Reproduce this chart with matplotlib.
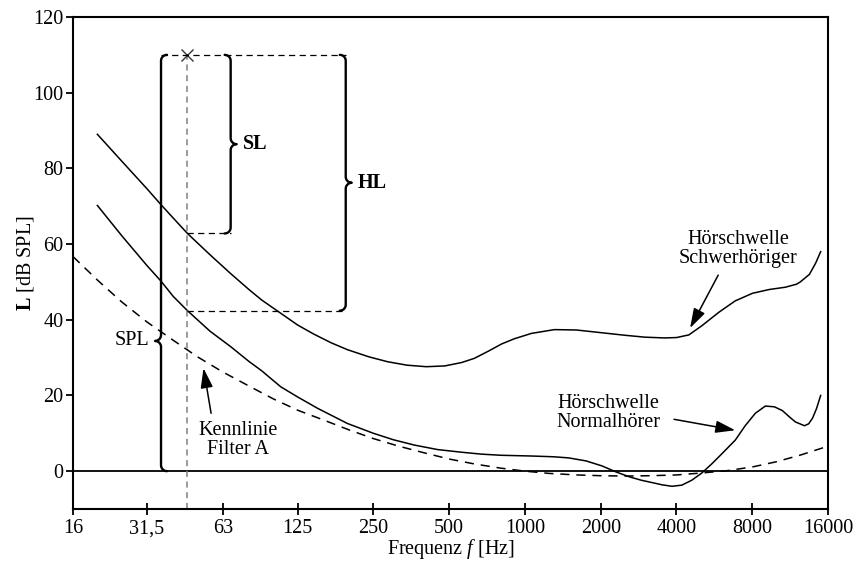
import numpy as np
import matplotlib
matplotlib.use('Agg')
import matplotlib.pyplot as plt
from matplotlib.ticker import FixedLocator, FixedFormatter, NullLocator

plt.rcParams['font.family'] = 'Liberation Serif'
plt.rcParams['mathtext.fontset'] = 'custom'
plt.rcParams['mathtext.rm'] = 'Liberation Serif'
plt.rcParams['mathtext.it'] = 'Liberation Serif:italic'
plt.rcParams['mathtext.bf'] = 'Liberation Serif:bold'

FS = 14.5

# x axis (octave bands)
TICK_F      = [16, 31.5, 63, 125, 250, 500, 1000, 2000, 4000, 8000, 16000]
TICK_LABELS = ['16', '31,5', '63', '125', '250', '500', '1000', '2000', '4000', '8000', '16000']
Y_TICKS     = [0, 20, 40, 60, 80, 100, 120]

# Hoerschwelle Schwerhoeriger
HS_F = [20, 25, 31.5, 35.8, 40, 45.6, 56, 67.7, 80, 90, 104, 125, 145, 170, 197,
        240, 285, 340, 405, 480, 560, 629, 720, 807, 909, 1061, 1310, 1600, 2000,
        2500, 3000, 3590, 4000, 4480, 5040, 5900, 6850, 8020, 9350, 10830, 12000,
        12420, 13500, 14300, 14960]
HS_L = [89, 81.9, 74.6, 70.4, 66.9, 62.8, 57.2, 52.2, 48, 45.2, 42.3, 38.6, 36.2,
        33.9, 32.1, 30.2, 28.9, 28, 27.6, 27.8, 28.7, 29.8, 31.8, 33.6, 35.0, 36.4,
        37.4, 37.3, 36.6, 35.9, 35.4, 35.2, 35.3, 36, 38.4, 42, 45, 47, 48, 48.6,
        49.4, 50, 52, 55, 58]

# Hoerschwelle Normalhoerer
HN_F = [20, 25, 31.5, 35.8, 40, 45.6, 56, 67.7, 80, 90, 107, 125, 150, 197, 250,
        300, 363, 450, 560, 670, 800, 1061, 1300, 1493, 1750, 2020, 2300, 2600,
        2900, 3190, 3500, 3840, 4200, 4600, 5040, 5500, 6000, 6850, 7500, 8230,
        9020, 9800, 10540, 11300, 11880, 12900, 13400, 13890, 14400, 14960]
HN_L = [70.2, 62.2, 54.3, 50.2, 46.2, 42.4, 37, 32.9, 29, 26.5, 22.3, 19.6, 16.6,
        12.6, 10, 8.3, 6.9, 5.7, 5.0, 4.5, 4.2, 4.0, 3.8, 3.5, 2.7, 1.4, -0.2, -1.5,
        -2.4, -3.0, -3.6, -4.0, -3.7, -2.4, -0.5, 1.8, 4.3, 8.2, 12, 15.3, 17.2,
        17, 16, 14.2, 13, 12, 12.5, 14, 16.5, 20]

# Kennlinie Filter A (inverted)
FA_F = [16, 20, 25, 31.5, 40, 50, 63, 80, 100, 125, 160, 200, 250, 315, 400, 500,
        630, 800, 1000, 1250, 1600, 2000, 2500, 3150, 4000, 5000, 6300, 8000,
        10000, 12500, 16000]
FA_L = [56.7, 50.5, 44.7, 39.4, 34.6, 30.2, 26.2, 22.5, 19.1, 16.1, 13.4, 10.9,
        8.6, 6.6, 4.8, 3.2, 1.9, 0.8, 0.0, -0.6, -1.0, -1.2, -1.3, -1.2, -1.0,
        -0.5, 0.1, 1.1, 2.5, 4.3, 6.6]

# example point (x) and the levels used for SL / HL / SPL
MARK_F, MARK_L = 45.6, 110
SL_LOW = 62.8   # Schwerhoeriger threshold at MARK_F
HL_LOW = 42.4   # Normalhoerer threshold at MARK_F
SPL_F, SL_F, HL_F = 35.8, 67.7, 194
SPL_TIP = 34.4

fig = plt.figure(figsize=(8.61, 5.64), dpi=100)
ax = fig.add_axes([73/861, 55/564, 755/861, 492/564])
ax.set_xscale('log')
ax.set_xlim(16, 16000)
ax.set_ylim(-10, 120)

for sp in ax.spines.values():
    sp.set_linewidth(1.5)
    sp.set_color('black')

ax.xaxis.set_major_locator(FixedLocator(TICK_F))
ax.xaxis.set_major_formatter(FixedFormatter(TICK_LABELS))
ax.xaxis.set_minor_locator(NullLocator())
ax.set_yticks(Y_TICKS)
ax.tick_params(axis='x', direction='inout', length=8.5, width=1.3,
               labelsize=FS, pad=3)
ax.tick_params(axis='y', direction='out', length=5, width=1.3,
               labelsize=FS, pad=2)

ax.set_xlabel('Frequenz $\\mathit{f}$ [Hz]', fontsize=FS, labelpad=-1)
ax.set_ylabel('$\\mathbf{L}$ [dB SPL]', fontsize=FS, labelpad=-2)

# curves
ax.axhline(0, color='black', lw=1.3)
ax.plot(HS_F, HS_L, color='black', lw=1.1)
ax.plot(HN_F, HN_L, color='black', lw=1.1)
ax.plot(FA_F, FA_L, color='black', lw=1.1, ls=(0, (6, 4.5)))

# helper lines
ax.plot([MARK_F, MARK_F], [-10, MARK_L], color='#808080', lw=1.1, ls=(0, (4, 3)))
ax.plot([MARK_F], [MARK_L], marker='x', color='#333333', ms=9, mew=1.0)
ax.plot([SPL_F, HL_F], [MARK_L, MARK_L], color='black', lw=0.9, ls=(0, (5, 3.5)))
ax.plot([MARK_F, SL_F], [SL_LOW, SL_LOW], color='black', lw=0.9, ls=(0, (5, 3.5)))
ax.plot([MARK_F, HL_F], [HL_LOW, HL_LOW], color='black', lw=0.9, ls=(0, (5, 3.5)))


def brace(f, y_lo, y_hi, y_tip, side=1, w=6.0):
    """curly brace at frequency f, side=1 tip to the right, -1 to the left"""
    X, Ylo = ax.transData.transform((f, y_lo))
    _, Yhi = ax.transData.transform((f, y_hi))
    _, Ym = ax.transData.transform((f, y_tip))
    t = np.linspace(0, np.pi / 2, 12)
    s = side
    pts = []
    # top end curl
    cx, cy = X - s * w, Yhi - w
    pts += list(zip(cx + s * w * np.sin(t), cy + w * np.cos(t)))
    # tip
    cx, cy = X + s * w, Ym + w
    pts += list(zip(cx - s * w * np.cos(t), cy - w * np.sin(t)))
    cx, cy = X + s * w, Ym - w
    pts += list(zip(cx - s * w * np.sin(t), cy + w * np.cos(t)))
    # bottom end curl
    cx, cy = X - s * w, Ylo + w
    pts += list(zip(cx + s * w * np.cos(t), cy - w * np.sin(t)))
    pts = np.array(pts)
    data = ax.transData.inverted().transform(pts)
    ax.plot(data[:, 0], data[:, 1], color='black', lw=1.7,
            solid_capstyle='round', solid_joinstyle='round')
    return ax.transData.inverted().transform((X + s * (w + 6), Ym))


p = brace(SL_F, SL_LOW, MARK_L, (SL_LOW + MARK_L) / 2, side=1)
ax.text(p[0], p[1], 'SL', fontsize=FS, fontweight='bold', ha='left', va='center')
p = brace(HL_F, HL_LOW, MARK_L, (HL_LOW + MARK_L) / 2, side=1)
ax.text(p[0], p[1], 'HL', fontsize=FS, fontweight='bold', ha='left', va='center')
p = brace(SPL_F, 0, MARK_L, SPL_TIP, side=-1)
ax.text(p[0], p[1], 'SPL', fontsize=FS, ha='right', va='center')

# annotations
arrow = dict(arrowstyle='-|>,head_length=0.8,head_width=0.25', color='black',
             lw=1.1, mutation_scale=15, shrinkA=0, shrinkB=0)
ax.annotate('', xy=(52.8, 27.2), xytext=(56.6, 15.3), arrowprops=arrow)
ax.text(72.6, 8.2, 'Kennlinie\nFilter A', fontsize=FS, ha='center', va='center',
        linespacing=1.0)
ax.annotate('', xy=(4530, 37.8), xytext=(5860, 51.8), arrowprops=arrow)
ax.text(7040, 58.7, 'Hörschwelle\nSchwerhöriger', fontsize=FS, ha='center',
        va='center', linespacing=1.0)
ax.annotate('', xy=(6850, 10.8), xytext=(3910, 13.7), arrowprops=arrow)
ax.text(2150, 15.3, 'Hörschwelle\nNormalhörer', fontsize=FS, ha='center',
        va='center', linespacing=1.0)

fig.savefig('out.png', dpi=100, facecolor='white')
